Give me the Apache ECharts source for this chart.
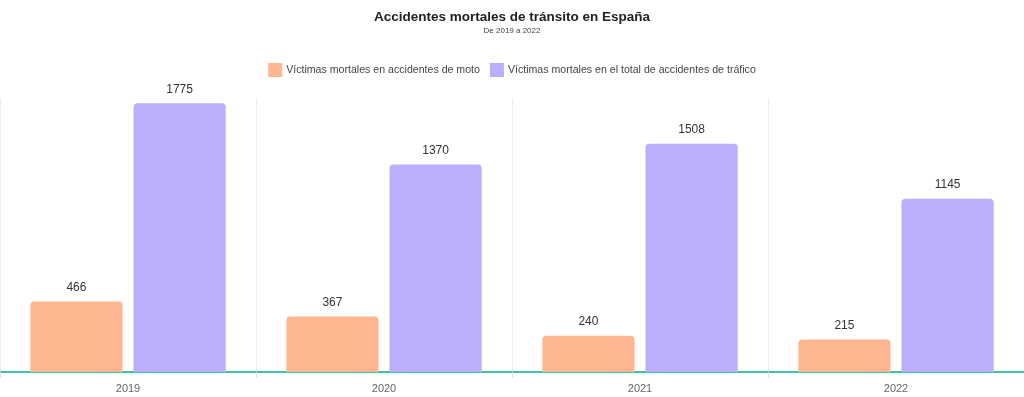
<!DOCTYPE html>
<html>
<head>
<meta charset="utf-8">
<script src="https://cdn.jsdelivr.net/npm/echarts@6/dist/echarts.min.js"></script>
<style>html,body{margin:0;padding:0;background:#fff}#c{width:1024px;height:397px}</style>
</head>
<body>
<div id="c"></div>
<script>
const years = ['2019', '2020', '2021', '2022'];
const moto = [466, 367, 240, 215];
const total = [1775, 1370, 1508, 1145];
const seriesNames = ['Víctimas mortales en accidentes de moto', 'Víctimas mortales en el total de accidentes de tráfico'];

const chart = echarts.init(document.getElementById('c'));
const font = 'Helvetica, "Liberation Sans", Arial, sans-serif';
chart.setOption({
  animation: false,
  textStyle: { fontFamily: font },
  title: {
    text: 'Accidentes mortales de tránsito en España',
    subtext: 'De 2019 a 2022',
    left: 'center', top: 5,
    itemGap: 3,
    textStyle: { fontSize: 13.5, fontWeight: 'bold', color: '#222', fontFamily: font },
    subtextStyle: { fontSize: 8, color: '#444', fontFamily: font }
  },
  legend: {
    top: 58, left: 'center',
    itemWidth: 14, itemHeight: 14, itemGap: 10,
    icon: 'rect',
    textStyle: { fontSize: 10.6, color: '#444', fontFamily: font, padding: [0, 0, 0, -1] },
    data: seriesNames
  },
  grid: { left: 0, right: 0, top: 98, bottom: 25, containLabel: false },
  xAxis: {
    type: 'category', data: years,
    axisLine: { lineStyle: { color: '#3cc5a3', width: 2 } },
    axisTick: { show: true, length: 6, lineStyle: { color: '#e4e4e4' } },
    splitLine: { show: true, lineStyle: { color: '#ececec' } },
    axisLabel: { fontSize: 11, color: '#666', margin: 11 }
  },
  yAxis: {
    type: 'value', min: 0, max: 1810, show: false, splitLine: { show: false }
  },
  series: [
    {
      name: seriesNames[0], type: 'bar', data: moto,
      barWidth: '36%', barGap: '12%',
      itemStyle: { color: '#fdb68f', borderRadius: [4, 4, 0, 0] },
      label: { show: true, position: 'top', distance: 8, fontSize: 12, color: '#333' }
    },
    {
      name: seriesNames[1], type: 'bar', data: total,
      barWidth: '36%',
      itemStyle: { color: '#bbaefc', borderRadius: [4, 4, 0, 0] },
      label: { show: true, position: 'top', distance: 8, fontSize: 12, color: '#333' }
    }
  ]
});
</script>
</body>
</html>
